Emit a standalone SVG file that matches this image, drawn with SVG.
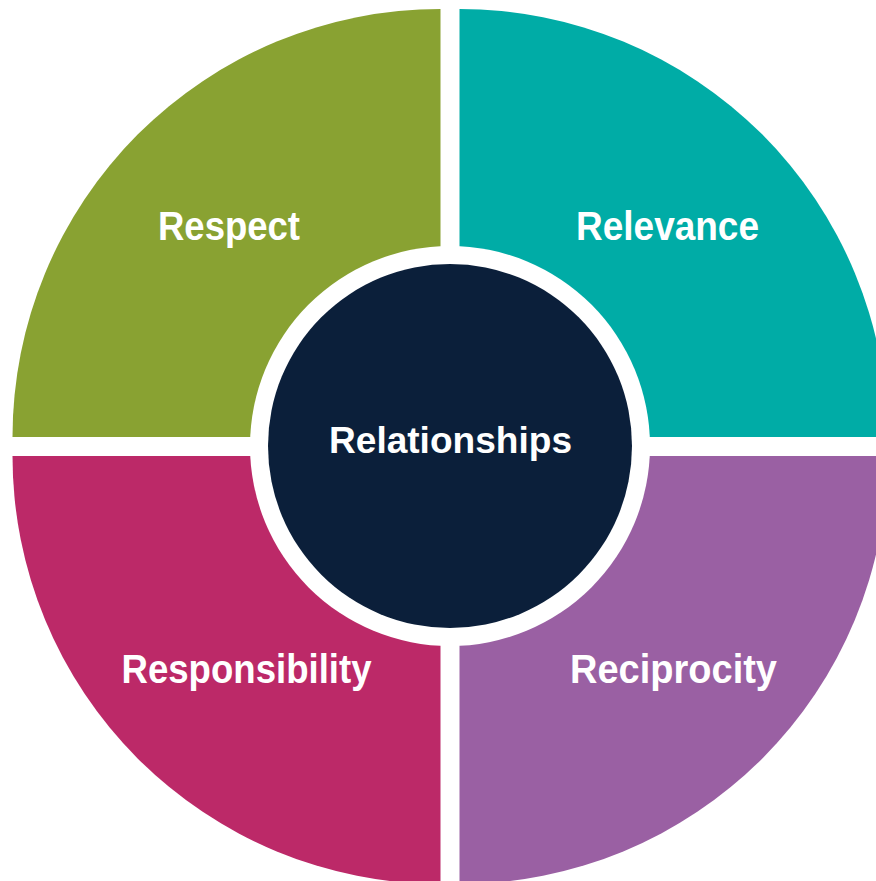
<svg xmlns="http://www.w3.org/2000/svg" width="876" height="881" viewBox="0 0 876 881">
<style>
.lbl{font-family:"Liberation Sans",Arial,sans-serif;font-weight:bold;fill:#ffffff;text-anchor:middle}
.big{font-size:41px}
.mid{font-size:36px}
</style>
<rect width="876" height="881" fill="#ffffff"/>
<g id="respect">
<path d="M440.5,437 L12.5,437 A428,428 0 0 1 440.5,9 Z" fill="#89A232"/>
<text class="lbl big" x="229" y="240" textLength="142" lengthAdjust="spacingAndGlyphs">Respect</text>
</g>
<g id="relevance">
<path d="M459.5,437 L459.5,9 A428,428 0 0 1 887.5,437 Z" fill="#00ACA6"/>
<text class="lbl big" x="667.5" y="240" textLength="183" lengthAdjust="spacingAndGlyphs">Relevance</text>
</g>
<g id="reciprocity">
<path d="M459.5,456 L887.5,456 A428,428 0 0 1 459.5,884 Z" fill="#9A60A3"/>
<text class="lbl big" x="673.5" y="683" textLength="207" lengthAdjust="spacingAndGlyphs">Reciprocity</text>
</g>
<g id="responsibility">
<path d="M440.5,456 L440.5,884 A428,428 0 0 1 12.5,456 Z" fill="#BC2968"/>
<text class="lbl big" x="246.5" y="683" textLength="250" lengthAdjust="spacingAndGlyphs">Responsibility</text>
</g>
<g id="relationships">
<circle cx="450" cy="446" r="200" fill="#ffffff"/>
<circle cx="450" cy="446" r="182" fill="#0B1F3A"/>
<text class="lbl mid" x="450.5" y="453" textLength="243" lengthAdjust="spacingAndGlyphs">Relationships</text>
</g>
<g id="connectors"></g>
</svg>
